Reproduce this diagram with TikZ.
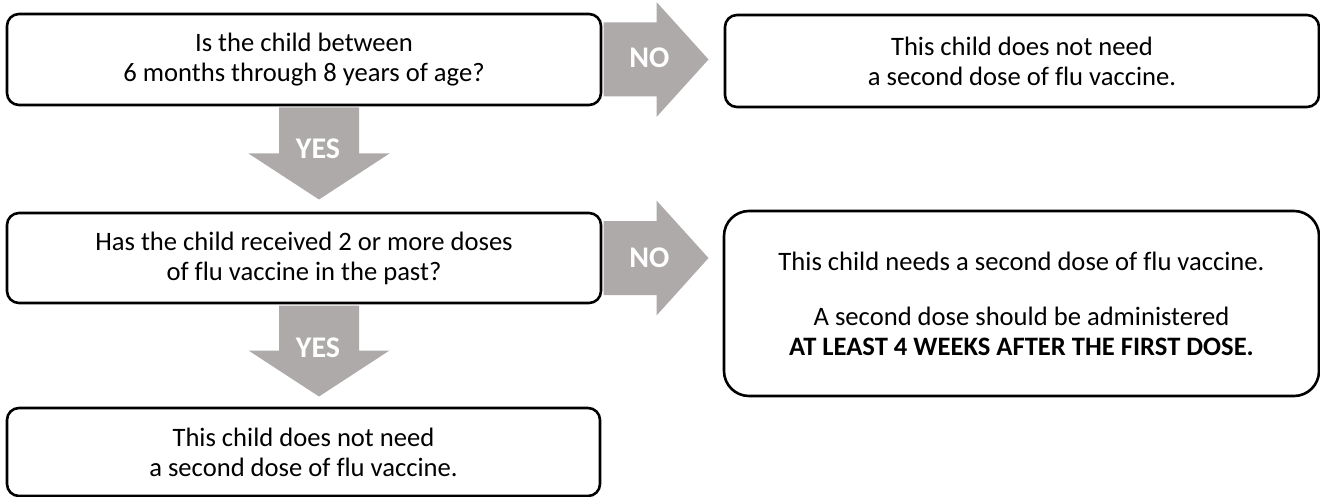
\documentclass[tikz,border=0pt]{standalone}
\usepackage{fontspec}
\setmainfont{Carlito}[Ligatures=NoCommon]
\definecolor{arrowgray}{RGB}{174,170,170}
\tikzset{
  flowbox/.style={draw, line width=1.3pt, rounded corners=6pt, align=center,
    font=\fontsize{13.3}{15}\selectfont, minimum width=297pt, inner sep=0pt},
  arrowlabel/.style={text=white, font=\fontsize{15}{18}\selectfont\bfseries, inner sep=0pt},
}
\begin{document}
\begin{tikzpicture}[x=0.5pt,y=-0.5pt]
  \useasboundingbox (0,0) rectangle (1320,497);

  % boxes
  \node[flowbox, minimum height=45.5pt] (agebox) at (304,59.5)
    {Is the child between\\6 months through 8 years of age?};
  \node[flowbox, minimum height=46pt] (noneedA) at (1022,61)
    {This child does not need\\a second dose of flu vaccine.};
  \node[flowbox, minimum height=45pt] (dosebox) at (304,258)
    {Has the child received 2 or more doses\\of flu vaccine in the past?};
  \node[flowbox, minimum height=92.5pt, minimum width=297.5pt, rounded corners=12.5pt] (needbox) at (1021.5,303.5)
    {This child needs a second dose of flu vaccine.\\[12.5pt]
     A second dose should be administered\\
     \textbf{AT LEAST 4 WEEKS AFTER THE FIRST DOSE.}};
  \node[flowbox, minimum height=44pt, minimum width=296.5pt] (noneedB) at (303.5,452)
    {This child does not need\\a second dose of flu vaccine.};

  % NO arrows
  \fill[arrowgray] ([xshift=0.6pt,yshift=18.5pt]agebox.east) -- ++(26.5pt,0) -- ++(0,10.25pt)
    -- ++(26pt,-28.75pt) -- ++(-26pt,-28.75pt) -- ++(0,10.25pt) -- ++(-26.5pt,0) -- cycle;
  \fill[arrowgray] ([xshift=0.6pt,yshift=18.5pt]dosebox.east) -- ++(26.5pt,0) -- ++(0,10.25pt)
    -- ++(26pt,-28.75pt) -- ++(-26pt,-28.75pt) -- ++(0,10.25pt) -- ++(-26.5pt,0) -- cycle;

  % YES arrows
  \fill[arrowgray] ([xshift=-12.5pt,yshift=-0.6pt]agebox.south) -- ++(0,-23pt) -- ++(-15.25pt,0)
    -- ++(35.25pt,-23pt) -- ++(35.25pt,23pt) -- ++(-15.25pt,0) -- ++(0,23pt) -- cycle;
  \fill[arrowgray] ([xshift=-12.5pt,yshift=-0.6pt]dosebox.south) -- ++(0,-22.5pt) -- ++(-15.25pt,0)
    -- ++(35.25pt,-23pt) -- ++(35.25pt,23pt) -- ++(-15.25pt,0) -- ++(0,22.5pt) -- cycle;

  \node[arrowlabel] (noA) at ([xshift=23.5pt,yshift=1pt]agebox.east) {NO};
  \node[arrowlabel] (noB) at ([xshift=23.5pt]dosebox.east) {NO};
  \node[arrowlabel] (yesA) at ([xshift=7pt,yshift=-21pt]agebox.south) {YES};
  \node[arrowlabel] (yesB) at ([xshift=7pt,yshift=-21.5pt]dosebox.south) {YES};

\end{tikzpicture}
\end{document}
